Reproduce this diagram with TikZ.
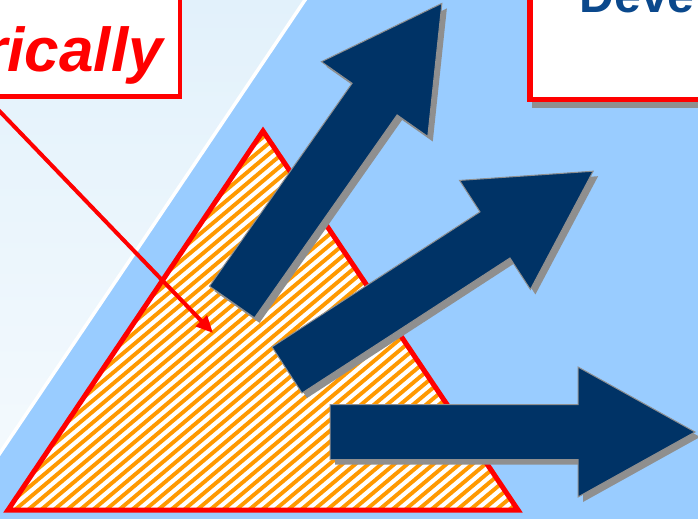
\documentclass[tikz,border=0pt]{standalone}
\usepackage{fontspec}
\setmainfont{Liberation Sans}
\usetikzlibrary{arrows.meta}

\definecolor{skyblue}{RGB}{153,204,255}
\definecolor{paleblue}{RGB}{226,241,251}
\definecolor{navy}{RGB}{0,51,102}
\definecolor{shadowgray}{RGB}{143,143,143}
\definecolor{stripeorange}{RGB}{255,153,0}
\definecolor{devblue}{RGB}{10,72,140}

\newcommand{\arrowoutline}{(0,-27.5) -- (248,-27.5) -- (248,-65) -- (365,0) -- (248,65) -- (248,27.5) -- (0,27.5) -- cycle}

\begin{document}
\begin{tikzpicture}[x=1pt, y=-1pt,
        labelbox/.style={draw=red, fill=white},
        bigarrow/.style={fill=navy, draw=shadowgray, line width=1pt}]
        \useasboundingbox (0,0) rectangle (698,519);
        \clip (0,0) rectangle (698,519);

        % background
        \fill[skyblue] (0,0) rectangle (698,519);
        \shade[top color=paleblue, bottom color=paleblue!40!white] (0,0) -- (305,0) -- (0,453) -- cycle;
        \draw[white, line width=3.5pt] (307,-3) -- (-2,456);

        % striped triangle
        \coordinate (apex) at (263,131);
        \coordinate (left) at (8,510);
        \coordinate (right) at (518,510);
        \begin{scope}
            \clip (apex) -- (left) -- (right) -- cycle;
            \fill[white] (0,0) rectangle (698,519);
            \foreach \i in {-640,-627,...,700}
                \draw[stripeorange, line width=3.9pt] (\i,525) -- ++(630,-530);
        \end{scope}
        \draw[red, line width=5pt] (apex) -- (left) -- (right) -- cycle;

        % labels
        \node[labelbox, line width=4.5pt, anchor=south east, text width=486pt, align=right,
              text height=100pt, text depth=13pt, inner xsep=17pt, inner ysep=11.5pt,
              text=red, font=\bfseries\itshape\fontsize{62}{62}\selectfont] (history) at (182,98.5) {rically};
        \fill[shadowgray] (532,108) rectangle (720,-60);
        \node[labelbox, line width=5.5pt, anchor=south west, minimum width=300pt, minimum height=160pt] (devbox) at (527,102) {};
        \node[anchor=base west, inner sep=0pt, text=devblue, font=\bfseries\fontsize{48}{48}\selectfont] (devtitle) at (579.5,13) {Deve};

        \coordinate (target) at (213,333);
        \draw[red, line width=4pt, -{Triangle[length=17pt, width=15pt]}] (history) -- (target);

        % growth arrows
        \foreach \x/\y/\a in {232/302/54.9, 287/370/33, 330/432/0} {
            \fill[shadowgray, shift={(\x+5,\y+5)}, rotate=\a] \arrowoutline;
            \path[bigarrow, shift={(\x,\y)}, rotate=\a] \arrowoutline;
        }
    \end{tikzpicture}
\end{document}
